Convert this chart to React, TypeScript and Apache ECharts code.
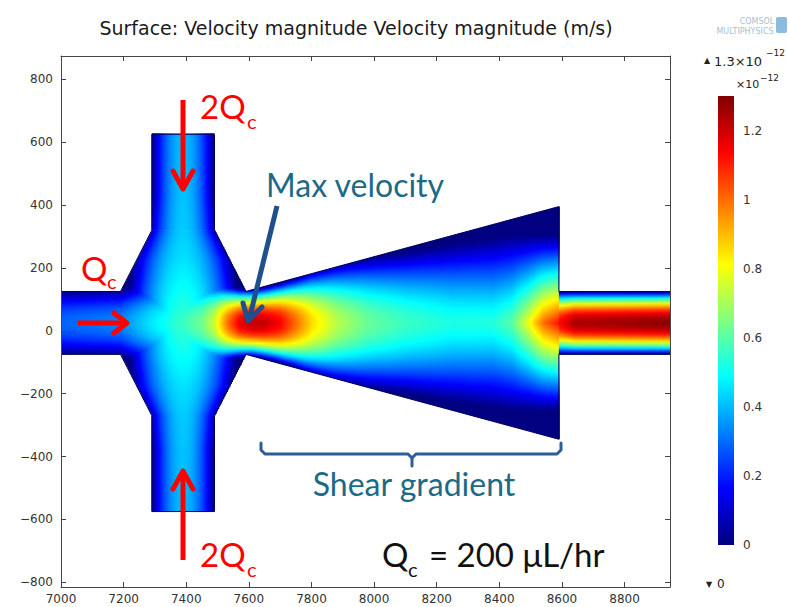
import React, { useEffect, useRef } from "react";
import * as echarts from "echarts";

// ---------------- axes ----------------
const X_MIN = 7000;
const X_MAX = 8945;
const Y_MIN = -815;
const Y_MAX = 874;
const V_MAX = 1.3; // colour range, x1e-12 m/s

const xTickValues = [7000, 7200, 7400, 7600, 7800, 8000, 8200, 8400, 8600, 8800];
const yTickValues = [-800, -600, -400, -200, 0, 200, 400, 600, 800];
const colorbarTicks = [0, 0.2, 0.4, 0.6, 0.8, 1, 1.2];

// ---------------- geometry (um) ----------------
const wallX = [7000, 7190, 7290, 7490, 7590, 8590, 8590, 8945];
const wallTopY = [125, 125, 320, 320, 125, 395, 125, 125];
const wallBottomY = [-75, -75, -270, -270, -75, -345, -75, -75];
const channelAxisY = 25;
const crossLeftX = 7290;
const crossRightX = 7490;
const crossAxisX = 7390;
const crossTopY = 625;
const crossBottomY = -575;

// ---------------- velocity (x1e-12 m/s) ----------------
// main horizontal stream: centre-line speed, width of the moving core, profile bluntness
const hStationX = [7000, 7190, 7290, 7390, 7450, 7490, 7530, 7570, 7610, 7650, 7700, 7750, 7800, 7880, 7980, 8100, 8250, 8380, 8440, 8490, 8540, 8589, 8591, 8640, 8945];
const hCenterSpeed = [0.29, 0.33, 0.46, 0.56, 0.63, 0.75, 0.98, 1.16, 1.22, 1.21, 1.14, 1.0, 0.86, 0.72, 0.62, 0.56, 0.52, 0.53, 0.6, 0.78, 1.0, 1.12, 1.13, 1.24, 1.28];
const hHalfWidth = [100, 105, 140, 160, 150, 135, 120, 110, 108, 115, 128, 145, 165, 190, 210, 225, 250, 270, 280, 280, 280, 280, 100, 100, 100];
const hProfileExp = [2, 2, 2, 2, 2, 2, 2, 2, 2, 2, 2, 2, 2, 1.9, 1.8, 1.7, 1.5, 1.3, 1.2, 1.1, 1.05, 1.0, 2, 2, 2];
// side (2Qc) inlets: distance from the channel axis
const vStationD = [0, 100, 200, 295, 400, 600];
const vCenterSpeed = [0.56, 0.5, 0.45, 0.42, 0.41, 0.4];
const vHalfWidth = [150, 175, 160, 110, 100, 100];

function interp(xs: number[], ys: number[], x: number): number {
  if (x <= xs[0]) return ys[0];
  for (let i = 0; i < xs.length - 1; i++) {
    if (x <= xs[i + 1]) {
      const span = xs[i + 1] - xs[i];
      if (span <= 0) continue;
      const t = (x - xs[i]) / span;
      return ys[i] + t * (ys[i + 1] - ys[i]);
    }
  }
  return ys[ys.length - 1];
}

function profile(r: number, p: number): number {
  if (r >= 1) return 0;
  return 1 - Math.pow(r, p);
}

function speedAt(x: number, y: number): number {
  const d = Math.abs(y - channelAxisY);
  const vH = interp(hStationX, hCenterSpeed, x) * profile(d / interp(hStationX, hHalfWidth, x), interp(hStationX, hProfileExp, x));
  const dx = Math.abs(x - crossAxisX);
  const vV = interp(vStationD, vCenterSpeed, d) * profile(dx / interp(vStationD, vHalfWidth, d), 2);
  return Math.max(vH, vV);
}

function clamp01(v: number) {
  return v < 0 ? 0 : v > 1 ? 1 : v;
}
function jet(v: number): string {
  const t = clamp01(v / V_MAX);
  const r = clamp01(1.5 - Math.abs(4 * t - 3));
  const g = clamp01(1.5 - Math.abs(4 * t - 2));
  const b = clamp01(1.5 - Math.abs(4 * t - 1));
  return `rgb(${Math.round(r * 255)},${Math.round(g * 255)},${Math.round(b * 255)})`;
}

// stops sampled on a fixed grid so neighbouring slices agree
function stopsAlong(a: number, b: number, step: number, f: (u: number) => number) {
  const lo = Math.min(a, b);
  const hi = Math.max(a, b);
  const us: number[] = [a];
  const first = Math.ceil(lo / step) * step;
  const grid: number[] = [];
  for (let u = first; u <= hi; u += step) if (u > lo && u < hi) grid.push(u);
  if (a > b) grid.reverse();
  us.push(...grid, b);
  return us.map((u) => ({ offset: (u - a) / (b - a), color: jet(f(u)) }));
}

function renderField(params: any, api: any) {
  const children: any[] = [];
  const P = (x: number, y: number) => api.coord([x, y]);
  const eps = 1e-6;
  // vertical slices across the main channel
  const breaks = [7000, 7190, 7290, 7490, 7590, 8590, 8945];
  for (let s = 0; s < breaks.length - 1; s++) {
    const a = breaks[s];
    const b = breaks[s + 1];
    const n = Math.ceil((b - a) / 4);
    for (let i = 0; i < n; i++) {
      const x0 = a + ((b - a) * i) / n;
      const x1 = a + ((b - a) * (i + 1)) / n;
      const t0 = interp(wallX, wallTopY, x0 + eps);
      const t1 = interp(wallX, wallTopY, x1 - eps);
      const b0 = interp(wallX, wallBottomY, x0 + eps);
      const b1 = interp(wallX, wallBottomY, x1 - eps);
      const p0t = P(x0, t0);
      const p1t = P(x1, t1);
      const p1b = P(x1, b1);
      const p0b = P(x0, b0);
      const last = s === breaks.length - 2 && i === n - 1;
      const xr = p1t[0] + (last ? 0 : 1);
      const yT = Math.max(t0, t1);
      const yB = Math.min(b0, b1);
      const pyT = P(x0, yT)[1];
      const pyB = P(x0, yB)[1];
      const xm = (x0 + x1) / 2;
      const stops = stopsAlong(yT, yB, 8, (y) => speedAt(xm, y));
      children.push({
        type: "polygon",
        shape: { points: [[p0t[0], p0t[1]], [xr, p1t[1]], [xr, p1b[1]], [p0b[0], p0b[1]]] },
        style: { fill: new echarts.graphic.LinearGradient(0, pyT, 0, pyB, stops, true) },
      });
    }
  }
  // horizontal slices across the side inlets
  const ranges = [
    [320, crossTopY],
    [crossBottomY, -270],
  ];
  for (const [ya, yb] of ranges) {
    const n = Math.ceil((yb - ya) / 4);
    for (let i = 0; i < n; i++) {
      const y0 = ya + ((yb - ya) * i) / n;
      const y1 = ya + ((yb - ya) * (i + 1)) / n;
      const pl0 = P(crossLeftX, y0);
      const pr1 = P(crossRightX, y1);
      const ym = (y0 + y1) / 2;
      const stops = stopsAlong(crossLeftX, crossRightX, 8, (x) => speedAt(x, ym));
      children.push({
        type: "polygon",
        shape: { points: [[pl0[0], pr1[1] - 1], [pr1[0], pr1[1] - 1], [pr1[0], pl0[1]], [pl0[0], pl0[1]]] },
        style: { fill: new echarts.graphic.LinearGradient(pl0[0], 0, pr1[0], 0, stops, true) },
      });
    }
  }
  // wall outline
  const top: number[][] = [];
  const bottom: number[][] = [];
  for (let i = 0; i < wallX.length; i++) {
    if (i === 3) {
      top.push(P(crossLeftX, crossTopY), P(crossRightX, crossTopY));
      bottom.push(P(crossLeftX, crossBottomY), P(crossRightX, crossBottomY));
    }
    top.push(P(wallX[i], wallTopY[i]));
    bottom.push(P(wallX[i], wallBottomY[i]));
  }
  children.push({ type: "polyline", shape: { points: top }, style: { stroke: "#00005a", lineWidth: 1, fill: null } });
  children.push({ type: "polyline", shape: { points: bottom }, style: { stroke: "#00005a", lineWidth: 1, fill: null } });
  return { type: "group", children };
}

function renderColorbar(params: any, api: any) {
  const pTop = api.coord([0, V_MAX]);
  const pBot = api.coord([1, 0]);
  const stops: any[] = [];
  const K = 40;
  for (let k = 0; k <= K; k++) {
    const t = k / K;
    stops.push({ offset: t, color: jet(V_MAX * (1 - t)) });
  }
  return {
    type: "rect",
    shape: { x: pTop[0], y: pTop[1], width: pBot[0] - pTop[0], height: pBot[1] - pTop[1] },
    style: { fill: new echarts.graphic.LinearGradient(0, pTop[1], 0, pBot[1], stops, true) },
  };
}

const AXIS_COLOR = "#454545";
const TICK_FONT = "DejaVu Sans";
const plain = (v: number) => String(v).replace("-", "\u2212");

function frameAxis(extra: any) {
  return {
    type: "value",
    z: 5,
    splitLine: { show: false },
    axisLine: { show: true, onZero: false, lineStyle: { color: AXIS_COLOR, width: 1 } },
    ...extra,
  };
}

const RED = "#ff0000";
const TEAL = "#1d6a86";
const NAVY_ARROW = "#1f4f8c";
const BRACKET = "#2c5e99";
const ANN_FONT = "Lato";

function txt(x: number, y: number, text: string, size: number, fill: string, family: string, align = "left") {
  return {
    type: "text",
    x,
    y,
    z: 100,
    silent: true,
    style: { text, fill, fontSize: size, fontFamily: family, textAlign: align, align, textVerticalAlign: "middle", verticalAlign: "middle" },
  };
}
function line(x1: number, y1: number, x2: number, y2: number, stroke: string, w: number) {
  return { type: "line", z: 100, silent: true, shape: { x1, y1, x2, y2 }, style: { stroke, lineWidth: w, lineCap: "butt" } };
}
function pline(points: number[][], stroke: string, w: number) {
  return { type: "polyline", z: 100, silent: true, shape: { points }, style: { stroke, lineWidth: w, fill: null, lineJoin: "round", lineCap: "round" } };
}

function buildOption() {
  return {
    animation: false,
    backgroundColor: "#ffffff",
    grid: [
      { left: 61, right: 118, top: 56, bottom: 20 },
      { left: 718, right: 54, top: 96, bottom: 62 },
    ],
    xAxis: [
      frameAxis({
        gridIndex: 0,
        position: "bottom",
        min: X_MIN,
        max: X_MAX,
        axisTick: { show: true, inside: true, length: 5, customValues: xTickValues, lineStyle: { color: AXIS_COLOR } },
        axisLabel: { customValues: xTickValues, color: "#333", fontSize: 12, fontFamily: TICK_FONT, margin: 6, formatter: plain },
      }),
      frameAxis({
        gridIndex: 0,
        position: "top",
        min: X_MIN,
        max: X_MAX,
        axisTick: { show: true, inside: true, length: 5, customValues: xTickValues, lineStyle: { color: AXIS_COLOR } },
        axisLabel: { show: false },
      }),
      { type: "value", gridIndex: 1, min: 0, max: 1, show: false },
    ],
    yAxis: [
      frameAxis({
        gridIndex: 0,
        position: "left",
        min: Y_MIN,
        max: Y_MAX,
        axisTick: { show: true, inside: true, length: 5, customValues: yTickValues, lineStyle: { color: AXIS_COLOR } },
        axisLabel: { customValues: yTickValues, color: "#333", fontSize: 12, fontFamily: TICK_FONT, margin: 8, formatter: plain },
      }),
      frameAxis({
        gridIndex: 0,
        position: "right",
        min: Y_MIN,
        max: Y_MAX,
        axisTick: { show: true, inside: true, length: 5, customValues: yTickValues, lineStyle: { color: AXIS_COLOR } },
        axisLabel: { show: false },
      }),
      {
        type: "value",
        gridIndex: 1,
        position: "right",
        min: 0,
        max: V_MAX,
        splitLine: { show: false },
        axisLine: { show: false },
        axisTick: { show: false },
        axisLabel: { customValues: colorbarTicks, color: "#333", fontSize: 12, fontFamily: TICK_FONT, margin: 9, formatter: plain },
      },
    ],
    series: [
      { type: "custom", xAxisIndex: 0, yAxisIndex: 0, data: [[X_MIN, 0]], renderItem: renderField, clip: true, silent: true, z: 2 },
      { type: "custom", xAxisIndex: 2, yAxisIndex: 2, data: [[0, 0]], renderItem: renderColorbar, silent: true },
    ],
    graphic: {
      elements: [
        txt(356, 28, "Surface: Velocity magnitude Velocity magnitude (m/s)", 19, "#1a1a1a", "DejaVu Sans", "center"),
        txt(757, 21, "COMSOL", 8, "#a9bfd1", "DejaVu Sans", "center"),
        txt(745, 31, "MULTIPHYSICS", 8, "#a9bfd1", "DejaVu Sans", "center"),
        { type: "rect", z: 100, silent: true, shape: { x: 776, y: 17, width: 11, height: 16, r: 2 }, style: { fill: "#8dbbe0" } },
        txt(704, 60, "\u25B2", 8, "#222", "DejaVu Sans"),
        txt(714, 61, "1.3\u00D710", 13, "#222", "DejaVu Sans"),
        txt(766, 53, "\u221212", 9, "#222", "DejaVu Sans"),
        txt(736, 84, "\u00D710", 11, "#222", "DejaVu Sans"),
        txt(760, 78, "\u221212", 9, "#222", "DejaVu Sans"),
        txt(706, 584, "\u25BC", 8, "#222", "DejaVu Sans"),
        txt(717, 584, "0", 12, "#222", "DejaVu Sans"),
        // top inlet arrow
        line(183, 100, 183, 186, RED, 5),
        pline([[173, 171], [183, 189], [193, 171]], RED, 5),
        txt(200, 106, "2Q", 33, RED, ANN_FONT),
        txt(247, 121, "c", 20, RED, ANN_FONT),
        // bottom inlet arrow
        line(183, 560, 183, 474, RED, 5),
        pline([[173, 489], [183, 471], [193, 489]], RED, 5),
        txt(200, 554, "2Q", 33, RED, ANN_FONT),
        txt(247, 569, "c", 20, RED, ANN_FONT),
        // left inlet arrow
        line(78, 323, 125, 323, RED, 5),
        pline([[114, 313], [127, 323], [114, 333]], RED, 5),
        txt(81, 268, "Q", 33, RED, ANN_FONT),
        txt(107, 281, "c", 20, RED, ANN_FONT),
        // max velocity
        txt(266, 184, "Max velocity", 32, TEAL, ANN_FONT),
        line(277, 206, 250, 316, NAVY_ARROW, 5),
        pline([[262, 307], [248, 321], [243, 303]], NAVY_ARROW, 5),
        // shear gradient bracket
        pline([[261, 443], [261, 450], [265, 454], [408, 454], [412, 458], [412, 466]], BRACKET, 3),
        pline([[412, 458], [416, 454], [557, 454], [561, 450], [561, 443]], BRACKET, 3),
        txt(414, 483, "Shear gradient", 32, TEAL, ANN_FONT, "center"),
        // flow rate
        txt(382, 554, "Q", 33, "#111", ANN_FONT),
        txt(408, 569, "c", 20, "#111", ANN_FONT),
        txt(429, 554, "= 200 \u03BCL/hr", 33, "#111", ANN_FONT),
      ],
    },
  };
}

export default function App() {
  const ref = useRef<HTMLDivElement>(null);
  useEffect(() => {
    const chart = echarts.init(ref.current as HTMLDivElement, null, { renderer: "svg" });
    chart.setOption(buildOption() as any);
    return () => chart.dispose();
  }, []);
  return <div ref={ref} style={{ position: "fixed", left: 0, top: 0, width: 788, height: 607, background: "#fff" }} />;
}
